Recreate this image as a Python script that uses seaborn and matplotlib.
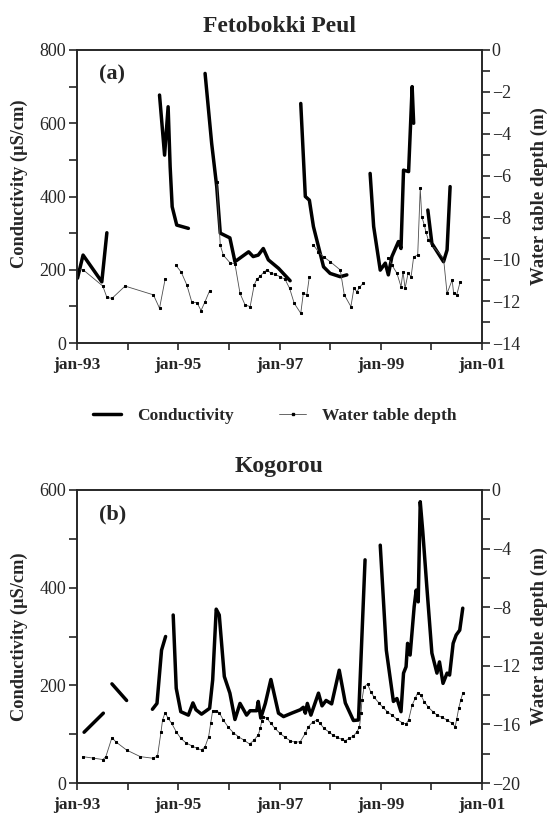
import numpy as np
import pandas as pd
import matplotlib
matplotlib.use("Agg")
import matplotlib.pyplot as plt
import seaborn as sns
from matplotlib.lines import Line2D

# ---------------- data (decimal years) ----------------
# Panel (a) Fetobokki Peul - conductivity (uS/cm), segments
a_cond_seg = [1] * 4 + [2] * 7 + [3] * 13 + [4] * 9 + [5] * 12 + [6] * 5
a_cond_t = [1993.01, 1993.12, 1993.49, 1993.59,
            1994.63, 1994.73, 1994.80, 1994.84, 1994.88, 1994.97, 1995.20,
            1995.53, 1995.66, 1995.76, 1995.83, 1996.02, 1996.12, 1996.39, 1996.48, 1996.58, 1996.68, 1996.78, 1996.98, 1997.21,
            1997.42, 1997.51, 1997.59, 1997.67, 1997.77, 1997.87, 1998.00, 1998.20, 1998.33,
            1998.79, 1998.86, 1998.99, 1999.09, 1999.15, 1999.22, 1999.35, 1999.40, 1999.45, 1999.55, 1999.62, 1999.65,
            1999.93, 2000.01, 2000.24, 2000.31, 2000.37]
a_cond_v = [177, 240, 167, 301,
            677, 513, 645, 481, 372, 322, 313,
            736, 545, 427, 300, 287, 222, 249, 236, 240, 258, 227, 204, 170,
            654, 400, 390, 318, 263, 208, 190, 181, 186,
            463, 318, 199, 218, 186, 236, 277, 258, 472, 468, 700, 600,
            363, 272, 222, 254, 427]

# Panel (a) - water table depth (m), segments
a_wtd_seg = [1] * 9 + [2] * 8 + [3] * 23 + [4] * 11 + [5] * 22
a_wtd_t = [1993.01, 1993.12, 1993.51, 1993.59, 1993.69, 1993.95, 1994.51, 1994.63, 1994.74,
           1994.95, 1995.06, 1995.17, 1995.27, 1995.37, 1995.45, 1995.53, 1995.62,
           1995.76, 1995.83, 1995.89, 1996.02, 1996.12, 1996.22, 1996.32, 1996.42, 1996.50, 1996.55,
           1996.62, 1996.70, 1996.76, 1996.83, 1996.91, 1997.01, 1997.11, 1997.20, 1997.29, 1997.42,
           1997.47, 1997.54, 1997.59,
           1997.67, 1997.77, 1997.87, 1998.00, 1998.20, 1998.28, 1998.41, 1998.47, 1998.53, 1998.58, 1998.65,
           1999.15, 1999.22, 1999.32, 1999.40, 1999.44, 1999.48, 1999.54, 1999.60, 1999.65, 1999.73,
           1999.78, 1999.81, 1999.86, 1999.89, 1999.94, 2000.01, 2000.24, 2000.31, 2000.41, 2000.44,
           2000.50, 2000.57]
a_wtd_v = [-10.5, -10.5, -11.28, -11.82, -11.87, -11.28, -11.7, -12.34, -10.96,
           -10.27, -10.62, -11.23, -12.06, -12.07, -12.45, -12.02, -11.5,
           -6.29, -9.32, -9.8, -10.16, -10.22, -11.63, -12.18, -12.26, -11.23, -10.96,
           -10.8, -10.59, -10.51, -10.67, -10.72, -10.83, -10.96, -11.39, -12.1, -12.58,
           -11.63, -11.7, -10.83,
           -9.32, -9.64, -9.88, -10.11, -10.51, -11.7, -12.26, -11.39, -11.55, -11.34, -11.15,
           -9.95, -10.27, -10.67, -11.31, -10.59, -11.39, -10.67, -10.83, -9.88, -9.8,
           -6.61, -7.96, -8.36, -8.68, -9.08, -9.32, -9.95, -11.63, -10.99, -11.63,
           -11.7, -11.07]

# Panel (b) Kogorou - conductivity (uS/cm), segments
b_cond_seg = [1] * 2 + [2] * 2 + [3] * 4 + [4] * 39 + [5] * 25
b_cond_t = [1993.14, 1993.52,
            1993.69, 1993.98,
            1994.49, 1994.58, 1994.67, 1994.75,
            1994.90, 1994.96, 1995.05, 1995.20, 1995.29, 1995.35, 1995.46, 1995.62, 1995.68, 1995.75,
            1995.81, 1995.91, 1996.02, 1996.12, 1996.22, 1996.35, 1996.42, 1996.55, 1996.58, 1996.63,
            1996.72, 1996.83, 1996.98, 1997.08, 1997.24, 1997.41, 1997.47, 1997.51, 1997.55, 1997.62,
            1997.77, 1997.84, 1997.92, 1998.03, 1998.18, 1998.30, 1998.46, 1998.56, 1998.69,
            1998.99, 1999.11, 1999.25, 1999.32, 1999.40, 1999.45, 1999.50, 1999.53, 1999.58, 1999.66,
            1999.70, 1999.74, 1999.78, 1999.83, 1999.91, 2000.01, 2000.11, 2000.16, 2000.23, 2000.31,
            2000.36, 2000.43, 2000.49, 2000.56, 2000.62]
b_cond_v = [104, 143,
            203, 169,
            151, 163, 272, 300,
            344, 194, 146, 139, 164, 150, 141, 153, 211, 356,
            344, 218, 184, 130, 163, 139, 148, 148, 167, 133,
            163, 212, 143, 136, 143, 150, 155, 143, 163, 139,
            184, 158, 169, 162, 231, 164, 128, 129, 457,
            487, 272, 167, 173, 146, 225, 238, 286, 262, 361,
            395, 371, 576, 515, 402, 266, 225, 248, 204, 225,
            221, 286, 303, 313, 358]

# Panel (b) - water table depth (m)
b_wtd_t = [1993.11, 1993.32, 1993.51, 1993.57, 1993.69, 1993.77, 1993.98, 1994.25,
           1994.50, 1994.59, 1994.66, 1994.69, 1994.74, 1994.80, 1994.87, 1994.96, 1995.05, 1995.15,
           1995.27, 1995.37, 1995.46, 1995.53, 1995.60, 1995.64, 1995.68, 1995.75, 1995.81, 1995.89,
           1995.99, 1996.09, 1996.19, 1996.29, 1996.41, 1996.50, 1996.58, 1996.62, 1996.65, 1996.68,
           1996.75, 1996.83, 1996.91, 1997.01, 1997.11, 1997.21, 1997.31, 1997.41,
           1997.51, 1997.57, 1997.66, 1997.74, 1997.80, 1997.88, 1997.97, 1998.05, 1998.14, 1998.23,
           1998.30, 1998.38, 1998.46, 1998.53, 1998.58, 1998.61, 1998.63, 1998.67, 1998.74, 1998.80,
           1998.87, 1998.96, 1999.04, 1999.13, 1999.22, 1999.32, 1999.42, 1999.50, 1999.55, 1999.62,
           1999.68, 1999.73, 1999.79, 1999.86, 1999.94, 2000.03, 2000.11, 2000.21, 2000.31, 2000.41,
           2000.47, 2000.50, 2000.54, 2000.58, 2000.62]
b_wtd_v = [-18.2, -18.3, -18.4, -18.2, -16.9, -17.2, -17.75, -18.2,
           -18.31, -18.16, -16.5, -15.7, -15.2, -15.58, -15.93, -16.5, -16.95, -17.25,
           -17.47, -17.63, -17.75, -17.52, -16.84, -15.93, -15.06, -15.06, -15.2, -15.7,
           -16.2, -16.57, -16.84, -17.06, -17.34, -17.06, -16.72, -16.27, -15.75, -15.47,
           -15.58, -15.93, -16.27, -16.61, -16.88, -17.11, -17.22, -17.18,
           -16.61, -16.16, -15.82, -15.7, -15.93, -16.27, -16.5, -16.72, -16.88, -17.02,
           -17.11, -16.95, -16.79, -16.5, -16.16, -15.24, -14.33, -13.43, -13.24, -13.77,
           -14.15, -14.52, -14.83, -15.13, -15.36, -15.65, -15.88, -15.97, -15.7, -14.68,
           -14.22, -13.84, -13.99, -14.45, -14.83, -15.13, -15.36, -15.52, -15.7, -15.93,
           -16.16, -15.65, -14.9, -14.33, -13.88]
b_wtd_seg = [1] * len(b_wtd_t)

year_ticks = list(range(1993, 2002))
year_labels = ["jan-93", "", "jan-95", "", "jan-97", "", "jan-99", "", "jan-01"]

# ---------------- style ----------------
sns.set_style("ticks")
plt.rcParams["font.family"] = ["Liberation Serif", "DejaVu Serif"]
plt.rcParams["axes.linewidth"] = 1.2
plt.rcParams["xtick.major.width"] = 1.2
plt.rcParams["ytick.major.width"] = 1.2
plt.rcParams["ytick.minor.width"] = 1.2

fig = plt.figure(figsize=(5.48, 8.17), dpi=100)

WTD_STYLE = dict(color="0.3", lw=0.6, marker="s", markersize=2.0,
                 markeredgecolor="black", markerfacecolor="black")


def panel(rect, cond_t, cond_v, cond_seg, wtd_t, wtd_v, wtd_seg,
          cmax, cstep, wmin, wstep_lab, wstep_min, title, tag, ylab_y):
    ax = fig.add_axes(rect)
    dfc = pd.DataFrame({"t": cond_t, "v": cond_v, "seg": cond_seg})
    sns.lineplot(data=dfc, x="t", y="v", units="seg", estimator=None,
                 color="black", lw=2.5, ax=ax, legend=False, sort=False)
    ax2 = ax.twinx()
    dfw = pd.DataFrame({"t": wtd_t, "v": wtd_v, "seg": wtd_seg})
    sns.lineplot(data=dfw, x="t", y="v", units="seg", estimator=None,
                 ax=ax2, legend=False, sort=False, **WTD_STYLE)
    ax.set_xlim(1993, 2001)
    ax.set_ylim(0, cmax)
    ax2.set_ylim(wmin, 0)
    ax.set_xticks(year_ticks)
    ax.set_xticklabels(year_labels, fontweight="bold", fontsize=12.5)
    ax.set_yticks(np.arange(0, cmax + 1, cstep * 2))
    ax.set_yticks(np.arange(0, cmax + 1, cstep), minor=True)
    ax.tick_params(axis="y", which="both", length=6, direction="out", labelsize=13, pad=2)
    ax.tick_params(axis="x", length=5, direction="out", pad=5)
    ax2.set_yticks(np.arange(wmin, 0.01, wstep_lab))
    ax2.set_yticks(np.arange(wmin, 0.01, wstep_min), minor=True)
    ax2.tick_params(axis="y", which="both", length=6, direction="out", labelsize=13, pad=1)
    for s in ["top", "right", "left", "bottom"]:
        ax.spines[s].set_visible(True)
        ax2.spines[s].set_visible(True)
    ax.set_xlabel("")
    ax.set_ylabel("Conductivity (µS/cm)", fontweight="bold", fontsize=13.2)
    ax.yaxis.set_label_coords(-0.12, ylab_y)
    ax2.set_ylabel("Water table depth (m)", fontweight="bold", fontsize=13.5,
                   rotation=90, labelpad=8)
    ax.set_title(title, fontweight="bold", fontsize=17, pad=13)
    ax.text(0.055, 0.915, tag, transform=ax.transAxes, fontweight="bold",
            fontsize=16, ha="left", va="center")
    return ax, ax2


H = 293 / 817
panel([77 / 548, (817 - 343) / 817, 405 / 548, H],
      a_cond_t, a_cond_v, a_cond_seg, a_wtd_t, a_wtd_v, a_wtd_seg,
      800, 100, -14, 2, 1, "Fetobokki Peul", "(a)", 0.545)
panel([77 / 548, (817 - 783) / 817, 405 / 548, H],
      b_cond_t, b_cond_v, b_cond_seg, b_wtd_t, b_wtd_v, b_wtd_seg,
      600, 100, -20, 4, 2, "Kogorou", "(b)", 0.5)

handles = [Line2D([], [], color="black", lw=2.5), Line2D([], [], **WTD_STYLE)]
fig.legend(handles, ["Conductivity", "Water table depth"], loc="center",
           bbox_to_anchor=(275 / 548, 1 - 416 / 817), ncol=2, frameon=False,
           prop={"weight": "bold", "size": 12.5}, handlelength=1.6,
           handletextpad=0.9, columnspacing=2.6)

fig.savefig("out.png", dpi=100)
